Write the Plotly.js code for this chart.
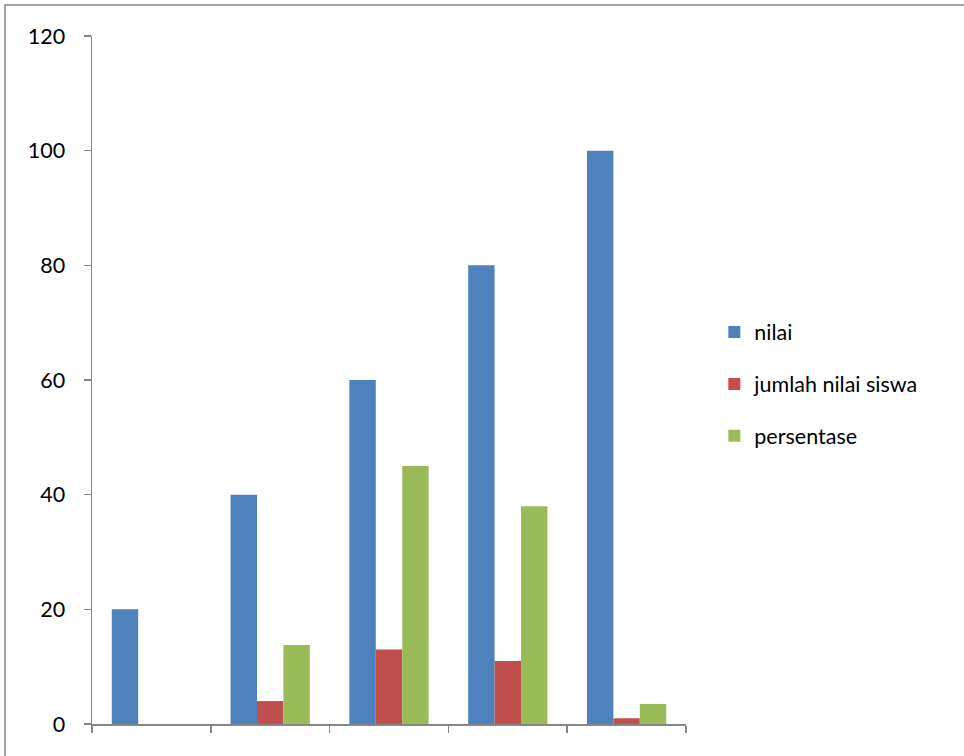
<!DOCTYPE html>
<html>
<head>
<meta charset="utf-8">
<script src="https://cdn.plot.ly/plotly-3.0.1.min.js"></script>
<style>
html,body{margin:0;padding:0;background:#fff;}
#chart{width:964px;height:756px;}
</style>
</head>
<body>
<div id="chart"></div>
<script>
var categories = ["1", "2", "3", "4", "5"];
var seriesNames = ["nilai", "jumlah nilai siswa", "persentase"];
var nilai = [20, 40, 60, 80, 100];
var jumlahNilaiSiswa = [null, 4, 13, 11, 1];
var persentase = [null, 13.8, 45, 38, 3.5];
var yTicks = [0, 20, 40, 60, 80, 100, 120];

var colors = ["#4F81BD", "#C0504D", "#9BBB59"];
var values = [nilai, jumlahNilaiSiswa, persentase];

var traces = values.map(function (v, i) {
  return {
    type: "bar",
    name: seriesNames[i],
    x: categories,
    y: v,
    legendgroup: "g" + i,
    marker: { color: colors[i], line: { width: 0 } },
    hoverinfo: "y"
  };
});

var layout = {
  width: 964,
  height: 756,
  paper_bgcolor: "#fff",
  plot_bgcolor: "#fff",
  margin: { l: 92, r: 278, t: 36, b: 32 },
  barmode: "group",
  bargap: 0.333,
  bargroupgap: 0,
  font: { family: "Lato, 'Open Sans', sans-serif", size: 21, color: "#000" },
  showlegend: true,
  legend: {
    xref: "container",
    yref: "container",
    x: 0.741,
    y: 0.588,
    xanchor: "left",
    yanchor: "top",
    traceorder: "grouped",
    tracegroupgap: 21,
    font: { size: 21.5, color: "#000" },
    itemwidth: 30,
    bgcolor: "rgba(0,0,0,0)"
  },
  xaxis: {
    type: "category",
    showticklabels: false,
    tickson: "boundaries",
    ticks: "outside",
    ticklen: 7,
    tickwidth: 1.5,
    tickcolor: "#868686",
    showline: true,
    linecolor: "#868686",
    linewidth: 1.5,
    showgrid: false,
    zeroline: false,
    fixedrange: true
  },
  yaxis: {
    range: [0, 120],
    tickvals: yTicks,
    ticktext: yTicks.map(String),
    ticks: "outside",
    ticklen: 7,
    tickwidth: 1.5,
    tickcolor: "#868686",
    ticklabelstandoff: 14,
    showline: true,
    linecolor: "#868686",
    linewidth: 1.5,
    showgrid: false,
    zeroline: false,
    tickfont: { size: 21.5, color: "#000" },
    fixedrange: true
  },
  shapes: [{
    type: "rect",
    xref: "paper",
    yref: "paper",
    x0: (5 - 92) / 594,
    x1: (1000 - 92) / 594,
    y0: -0.2,
    y1: 1 + 31 / 688,
    line: { color: "#868686", width: 1.5 },
    fillcolor: "rgba(0,0,0,0)",
    layer: "below"
  }]
};

Plotly.newPlot("chart", traces, layout, { displayModeBar: false, staticPlot: true });
</script>
</body>
</html>
